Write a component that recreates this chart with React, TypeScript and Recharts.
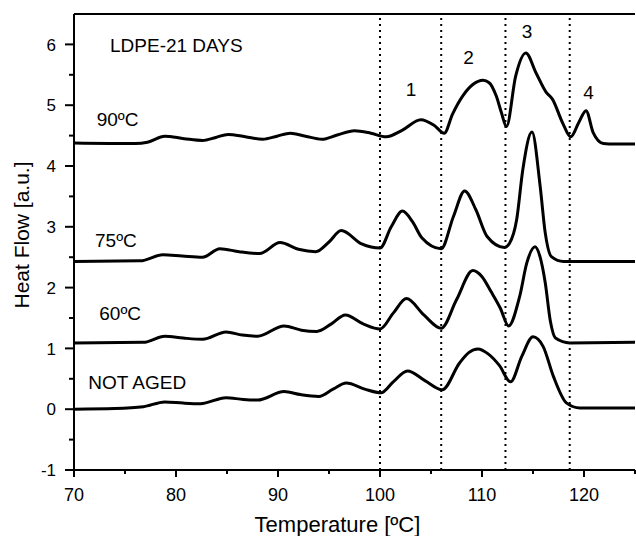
import React from 'react';
import { LineChart, Line, XAxis, YAxis, ReferenceLine, ReferenceDot } from 'recharts';

const notAgedT = [70, 74, 76.8, 78.9, 80.7, 82.4, 84.9, 86.6, 88.0, 90.6, 92.2, 94.0, 95.4, 96.7, 98.5, 100.1, 101.3, 102.7, 104.4, 106.1, 107.8, 108.7, 109.6, 110.6, 111.7, 112.8, 113.9, 115.0, 116.0, 117.0, 118.3, 119.6, 125];
const notAgedV = [0.00, 0.01, 0.04, 0.12, 0.10, 0.09, 0.19, 0.16, 0.15, 0.29, 0.24, 0.21, 0.33, 0.43, 0.33, 0.27, 0.45, 0.63, 0.47, 0.32, 0.76, 0.93, 0.99, 0.91, 0.72, 0.45, 0.87, 1.19, 1.03, 0.54, 0.10, 0.02, 0.02];

const c60T = [70, 76.8, 78.9, 80.7, 82.6, 84.9, 86.5, 88.0, 90.6, 92.3, 93.8, 95.2, 96.6, 98.4, 100.0, 101.3, 102.6, 104.3, 106.0, 107.5, 109.1, 110.0, 110.9, 111.8, 112.6, 113.7, 114.4, 115.2, 115.7, 116.2, 116.7, 117.2, 118.6, 125];
const c60V = [1.09, 1.10, 1.20, 1.17, 1.15, 1.27, 1.22, 1.20, 1.37, 1.30, 1.28, 1.40, 1.55, 1.40, 1.32, 1.58, 1.82, 1.55, 1.33, 1.80, 2.28, 2.18, 1.93, 1.66, 1.37, 1.86, 2.41, 2.67, 2.50, 2.08, 1.45, 1.17, 1.09, 1.10];

const c75T = [70, 76.5, 78.7, 80.6, 82.6, 84.3, 86.2, 88.2, 90.2, 92.0, 93.7, 95.0, 96.2, 98.2, 100.0, 101.1, 102.2, 103.2, 104.1, 106.0, 107.2, 108.3, 109.4, 110.5, 112.2, 112.7, 113.4, 114.0, 114.9, 115.7, 116.2, 116.8, 118.0, 125];
const c75V = [2.43, 2.44, 2.54, 2.52, 2.50, 2.64, 2.59, 2.56, 2.74, 2.63, 2.59, 2.75, 2.94, 2.72, 2.65, 3.00, 3.26, 3.08, 2.82, 2.64, 3.17, 3.59, 3.28, 2.84, 2.66, 2.73, 3.12, 3.94, 4.56, 3.67, 2.90, 2.51, 2.43, 2.43];

const c90T = [70, 76.0, 77.2, 78.9, 80.8, 82.6, 83.9, 85.1, 86.8, 88.5, 89.9, 91.2, 92.7, 94.3, 95.8, 97.5, 99.1, 100.6, 102.2, 104.0, 105.3, 106.3, 107.1, 108.1, 109.1, 110.1, 110.7, 111.4, 111.9, 112.4, 113.3, 114.3, 115.3, 116.3, 116.9, 117.9, 118.7, 119.5, 120.2, 120.9, 121.9, 123.0, 125];
const c90V = [4.38, 4.37, 4.39, 4.49, 4.45, 4.42, 4.47, 4.52, 4.48, 4.44, 4.49, 4.54, 4.49, 4.44, 4.51, 4.58, 4.54, 4.48, 4.59, 4.76, 4.67, 4.54, 4.85, 5.15, 5.34, 5.41, 5.37, 5.15, 4.88, 4.65, 5.48, 5.86, 5.53, 5.21, 5.10, 4.71, 4.48, 4.72, 4.91, 4.55, 4.37, 4.36, 4.36];

const dividerTemps = [100, 106, 112.3, 118.6];

const xTicks = [70, 75, 80, 85, 90, 95, 100, 105, 110, 115, 120, 125];
const yTicks = [-1, -0.5, 0, 0.5, 1, 1.5, 2, 2.5, 3, 3.5, 4, 4.5, 5, 5.5, 6];

const seriesLabels = [
  { text: 'LDPE-21 DAYS', t: 73.53, v: 5.87, anchor: 'start' },
  { text: '90ºC', t: 72.23, v: 4.65, anchor: 'start' },
  { text: '75ºC', t: 72.06, v: 2.67, anchor: 'start' },
  { text: '60ºC', t: 72.48, v: 1.47, anchor: 'start' },
  { text: 'NOT AGED', t: 71.4, v: 0.335, anchor: 'start' },
  { text: '1', t: 103.04, v: 5.15, anchor: 'middle' },
  { text: '2', t: 108.68, v: 5.67, anchor: 'middle' },
  { text: '3', t: 114.41, v: 6.1, anchor: 'middle' },
  { text: '4', t: 120.44, v: 5.11, anchor: 'middle' },
];

const build = (ts: number[], vs: number[]) => ts.map((t, i) => ({ t, v: vs[i] }));

const series = [
  build(notAgedT, notAgedV),
  build(c60T, c60V),
  build(c75T, c75V),
  build(c90T, c90V),
];

const FONT = '"Liberation Sans", Arial, sans-serif';

const XTick = (props: any) => {
  const { x, y, payload } = props;
  const major = payload.value % 10 === 0;
  return (
    <g>
      <line x1={x} x2={x} y1={y} y2={y + (major ? 7 : 4)} stroke="#000" strokeWidth={2} />
      {major && (
        <text x={x} y={y + 31} textAnchor="middle" fontSize={18} fontFamily={FONT} fill="#000">
          {payload.value}
        </text>
      )}
    </g>
  );
};

const YTick = (props: any) => {
  const { x, y, payload } = props;
  const major = Number.isInteger(payload.value);
  return (
    <g>
      <line x1={x} x2={x - (major ? 9 : 5)} y1={y} y2={y} stroke="#000" strokeWidth={2} />
      {major && (
        <text x={x - 18} y={y} dy="0.36em" textAnchor="end" fontSize={17} fontFamily={FONT} fill="#000">
          {payload.value}
        </text>
      )}
    </g>
  );
};

const XTitle = (props: any) => {
  const { viewBox } = props;
  return (
    <text x={viewBox.x + viewBox.width / 2 - 17} y={viewBox.y + viewBox.height - 4} textAnchor="middle" fontSize={22} fontFamily={FONT} fill="#000">
      Temperature [ºC]
    </text>
  );
};

const YTitle = (props: any) => {
  const { viewBox } = props;
  const cx = viewBox.x + 21;
  const cy = viewBox.y + viewBox.height / 2 - 7;
  return (
    <text transform={`translate(${cx},${cy}) rotate(-90)`} x={0} y={0} dy="0.36em" textAnchor="middle" fontSize={21} fontFamily={FONT} fill="#000">
      Heat Flow [a.u.]
    </text>
  );
};

export default function App() {
  return (
    <div style={{ position: 'absolute', left: 0, top: 0, width: 636, height: 536, background: '#fff' }}>
      <LineChart width={636} height={536} margin={{ top: 14, right: 1, bottom: 0, left: 0 }}>
        <XAxis
          dataKey="t"
          type="number"
          domain={[70, 125]}
          ticks={xTicks}
          interval={0}
          allowDataOverflow
          height={66}
          tickSize={0}
          tickMargin={0}
          tickLine={false}
          axisLine={{ stroke: '#000', strokeWidth: 2 }}
          tick={<XTick />}
          label={<XTitle />}
        />
        <YAxis
          type="number"
          domain={[-1, 6.5]}
          ticks={yTicks}
          interval={0}
          allowDataOverflow
          width={74}
          tickSize={0}
          tickMargin={0}
          tickLine={false}
          axisLine={{ stroke: '#000', strokeWidth: 2 }}
          tick={<YTick />}
          label={<YTitle />}
        />
        <ReferenceLine y={6.5} stroke="#000" strokeWidth={2} />
        {dividerTemps.map((t) => (
          <ReferenceLine key={t} x={t} stroke="#000" strokeWidth={2} strokeDasharray="2 4" />
        ))}
        {series.map((d, i) => (
          <Line
            key={i}
            data={d}
            dataKey="v"
            type="monotone"
            stroke="#000"
            strokeWidth={3}
            dot={false}
            activeDot={false}
            isAnimationActive={false}
          />
        ))}
        {seriesLabels.map((l) => (
          <ReferenceDot
            key={l.text}
            x={l.t}
            y={l.v}
            r={0}
            shape={(p: any) => (
              <text x={p.cx} y={p.cy} textAnchor={l.anchor as any} fontSize={19} fontFamily={FONT} fill="#000">
                {l.text}
              </text>
            )}
          />
        ))}
      </LineChart>
    </div>
  );
}
